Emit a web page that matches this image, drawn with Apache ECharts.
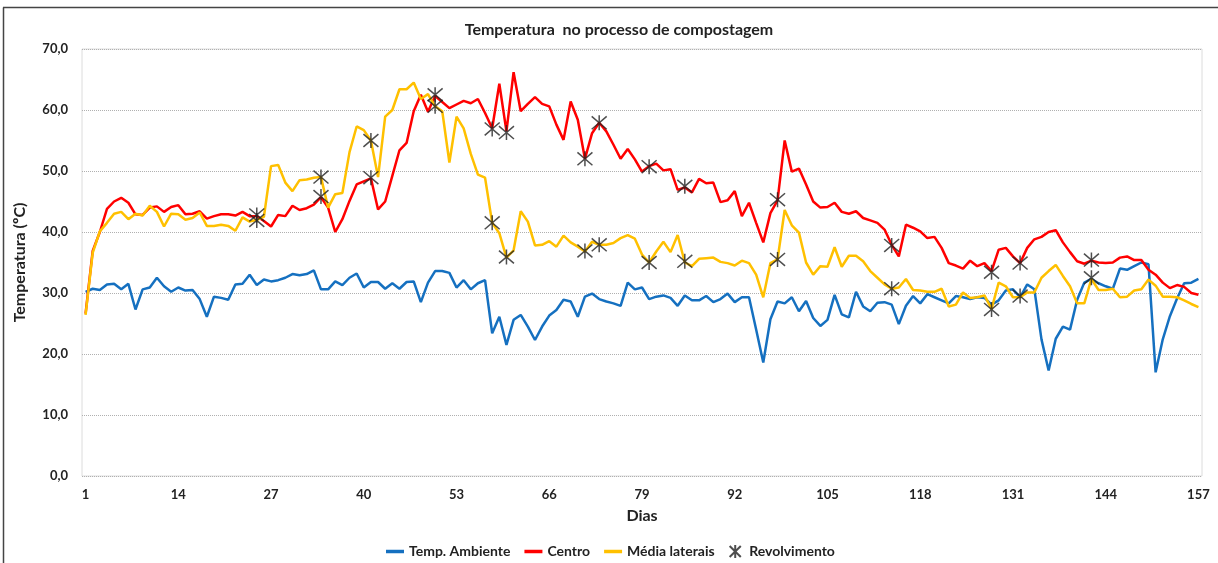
<!DOCTYPE html>
<html>
<head>
<meta charset="utf-8">
<script src="https://cdn.jsdelivr.net/npm/echarts@6/dist/echarts.min.js"></script>
<style>
  html, body { margin: 0; padding: 0; background: #fff; }
  #chart { width: 1218px; height: 563px; }
</style>
</head>
<body>
<div id="chart"></div>
<script>
// dias 1..157
const days = Array.from({ length: 157 }, (_, i) => String(i + 1))

const ambiente = [
  30.2, 30.7, 30.5, 31.4, 31.5, 30.6, 31.5, 27.3, 30.6, 30.9,
  32.5, 31.1, 30.2, 30.9, 30.4, 30.5, 29.0, 26.1, 29.4, 29.2,
  28.9, 31.4, 31.5, 33.0, 31.3, 32.2, 31.9, 32.1, 32.5, 33.1,
  32.9, 33.1, 33.7, 30.6, 30.6, 31.9, 31.3, 32.5, 33.2, 30.9,
  31.8, 31.8, 30.7, 31.6, 30.7, 31.8, 31.9, 28.5, 31.7, 33.6,
  33.6, 33.3, 30.9, 32.1, 30.6, 31.6, 32.1, 23.4, 26.1, 21.5,
  25.6, 26.4, 24.5, 22.3, 24.5, 26.3, 27.2, 28.9, 28.6, 26.1,
  29.4, 29.9, 29.0, 28.6, 28.3, 27.9, 31.7, 30.6, 30.9, 29.0,
  29.4, 29.6, 29.2, 27.9, 29.6, 28.8, 28.8, 29.5, 28.5, 29.0,
  29.9, 28.5, 29.3, 29.3, 24.0, 18.6, 25.7, 28.6, 28.3, 29.3,
  27.0, 28.7, 25.9, 24.6, 25.6, 29.7, 26.5, 26.0, 30.2, 27.8,
  27.0, 28.4, 28.5, 28.1, 24.9, 27.9, 29.5, 28.3, 29.8, 29.3,
  28.8, 28.3, 29.5, 29.3, 29.0, 29.3, 29.2, 28.1, 28.8, 30.4,
  30.6, 29.3, 31.4, 30.6, 22.4, 17.3, 22.5, 24.5, 24.0, 28.9,
  31.7, 32.3, 31.6, 31.1, 30.7, 34.0, 33.8, 34.4, 35.0, 34.7,
  17.0, 22.4, 26.2, 29.1, 31.6, 31.7, 32.3
]

const centro = [
  26.6, 36.9, 40.0, 43.8, 45.0, 45.6, 44.8, 42.9, 42.8, 44.0,
  44.2, 43.3, 44.1, 44.4, 42.9, 43.0, 43.4, 42.2, 42.6, 42.9,
  42.9, 42.7, 43.3, 42.6, 42.6, 41.8, 40.9, 42.8, 42.6, 44.3,
  43.6, 43.9, 44.5, 45.7, 44.0, 40.0, 42.1, 45.1, 47.8, 48.3,
  48.8, 43.7, 45.0, 49.2, 53.4, 54.6, 59.8, 62.5, 59.7, 62.3,
  61.3, 60.3, 60.9, 61.5, 61.1, 61.8, 59.5, 57.0, 64.3, 56.5,
  66.2, 59.8, 61.0, 62.1, 61.0, 60.6, 57.6, 55.1, 61.4, 58.4,
  52.0, 56.2, 57.9, 56.5, 54.3, 52.0, 53.6, 51.9, 49.9, 50.8,
  51.2, 50.1, 50.3, 46.9, 47.3, 46.5, 48.7, 48.0, 48.1, 44.9,
  45.2, 46.7, 42.6, 44.8, 41.5, 38.3, 43.1, 45.2, 55.0, 49.9,
  50.4, 47.8, 45.0, 44.0, 44.1, 44.8, 43.3, 43.0, 43.4, 42.3,
  41.9, 41.5, 40.4, 37.9, 36.0, 41.2, 40.7, 40.1, 39.0, 39.2,
  37.4, 34.9, 34.5, 34.0, 35.3, 34.4, 34.9, 33.6, 37.1, 37.4,
  36.0, 34.9, 37.4, 38.8, 39.2, 40.0, 40.3, 38.3, 36.7, 35.2,
  34.8, 35.3, 35.0, 34.9, 35.0, 35.8, 36.0, 35.4, 35.4, 33.8,
  33.0, 31.7, 30.8, 31.3, 31.0, 30.0, 29.7
]

const laterais = [
  26.4, 36.6, 40.1, 41.5, 43.0, 43.3, 42.1, 43.0, 42.7, 44.3,
  43.3, 40.9, 43.0, 42.9, 42.0, 42.3, 43.2, 41.0, 41.0, 41.2,
  41.0, 40.2, 42.4, 41.7, 42.0, 42.5, 50.8, 51.0, 48.1, 46.7,
  48.5, 48.6, 48.9, 49.0, 44.0, 46.2, 46.4, 53.1, 57.3, 56.7,
  55.0, 49.0, 58.9, 60.0, 63.4, 63.4, 64.5, 61.8, 62.6, 60.6,
  59.8, 51.4, 58.9, 57.0, 52.8, 49.4, 48.9, 41.5, 39.8, 35.8,
  37.0, 43.4, 41.7, 37.8, 37.9, 38.5, 37.6, 39.4, 38.3, 37.6,
  36.8, 38.4, 37.9, 37.9, 38.2, 39.0, 39.5, 38.9, 36.3, 35.0,
  36.8, 38.4, 36.7, 39.5, 35.0, 34.4, 35.6, 35.7, 35.8, 35.1,
  34.9, 34.5, 35.3, 34.9, 33.0, 29.3, 34.9, 35.5, 43.6, 41.1,
  39.9, 35.0, 33.0, 34.4, 34.3, 37.5, 34.3, 36.1, 36.1, 35.2,
  33.6, 32.5, 31.4, 30.7, 30.9, 32.3, 30.5, 30.4, 30.2, 30.2,
  30.7, 27.8, 28.1, 30.1, 29.2, 29.3, 29.6, 27.4, 31.7, 31.1,
  29.3, 29.3, 30.1, 30.1, 32.5, 33.6, 34.6, 32.8, 31.1, 28.3,
  28.3, 32.3, 30.5, 30.5, 30.7, 29.3, 29.4, 30.4, 30.6, 32.2,
  31.2, 29.4, 29.4, 29.3, 28.8, 28.2, 27.7
]

// revolvimentos (dia, temperatura)
const revDays = [25, 25, 34, 34, 41, 41, 50, 50, 58, 58, 60, 60, 71, 71, 73, 73,
  80, 80, 85, 85, 98, 98, 114, 114, 128, 128, 132, 132, 142, 142]
const revValues = [42.8, 41.9, 49.0, 45.8, 55.0, 48.9, 62.5, 60.6, 56.9, 41.5, 56.3, 35.9,
  52.0, 36.9, 57.9, 37.9, 50.7, 35.0, 47.5, 35.2, 45.3, 35.5, 37.8, 30.7,
  33.4, 27.3, 34.9, 29.5, 35.4, 32.5]

const font = 'Lato, "Open Sans", sans-serif'
const star = 'path://M0,-7L0,7M-6,-6L6,6M-6,6L6,-6'
const lineIcon = 'path://M0,0L18,0L18,3.5L0,3.5Z'

const chart = echarts.init(document.getElementById('chart'))
chart.setOption({
  animation: false,
  backgroundColor: '#fff',
  title: {
    text: 'Temperatura  no processo de compostagem',
    left: 614,
    textAlign: 'center',
    top: 17,
    textStyle: { fontFamily: font, fontSize: 16, fontWeight: 'bold', color: '#222' }
  },
  legend: {
    top: 539,
    left: 381,
    itemGap: 14,
    itemWidth: 18,
    itemHeight: 13,
    textStyle: { fontFamily: font, fontSize: 14, fontWeight: 'bold', color: '#222' },
    data: [
      { name: 'Temp. Ambiente', icon: lineIcon },
      { name: 'Centro', icon: lineIcon },
      { name: 'Média laterais', icon: lineIcon },
      { name: 'Revolvimento' }
    ]
  },
  grid: {
    left: 82, right: 16, top: 49, bottom: 87,
    show: true, borderColor: '#dcdcdc', borderWidth: 1
  },
  xAxis: {
    type: 'category',
    data: days,
    name: 'Dias',
    nameLocation: 'middle',
    nameGap: 32,
    nameTextStyle: { fontFamily: font, fontSize: 16, fontWeight: 'bold', color: '#222' },
    axisLine: { show: false },
    axisTick: { show: false },
    axisLabel: {
      interval: 12, margin: 12,
      fontFamily: font, fontSize: 13, fontWeight: 'bold', color: '#222'
    }
  },
  yAxis: {
    type: 'value',
    min: 0, max: 70, interval: 10,
    name: 'Temperatura (ºC)',
    nameLocation: 'middle',
    nameGap: 54,
    nameTextStyle: { fontFamily: font, fontSize: 16, fontWeight: 'bold', color: '#222' },
    axisLine: { show: false },
    axisTick: { show: false },
    axisLabel: {
      margin: 14,
      fontFamily: font, fontSize: 13, fontWeight: 'bold', color: '#222',
      formatter: v => v.toFixed(1).replace('.', ',')
    },
    splitLine: { lineStyle: { color: '#b0b0b0', type: 'dotted', width: 1 } }
  },
  graphic: [
    { type: 'line', shape: { x1: 3, y1: 7.5, x2: 1218, y2: 7.5 }, style: { stroke: '#444', lineWidth: 1.5 } },
    { type: 'line', shape: { x1: 3.5, y1: 7.5, x2: 3.5, y2: 563 }, style: { stroke: '#444', lineWidth: 1.5 } }
  ],
  series: [
    {
      name: 'Temp. Ambiente', type: 'line', data: ambiente,
      symbol: 'none', lineStyle: { width: 2.5, color: '#1570C0' }, itemStyle: { color: '#1570C0' }
    },
    {
      name: 'Centro', type: 'line', data: centro,
      symbol: 'none', lineStyle: { width: 2.5, color: '#FF0000' }, itemStyle: { color: '#FF0000' }
    },
    {
      name: 'Média laterais', type: 'line', data: laterais,
      symbol: 'none', lineStyle: { width: 2.5, color: '#FFC000' }, itemStyle: { color: '#FFC000' }
    },
    {
      name: 'Revolvimento', type: 'scatter',
      data: revDays.map((d, i) => [d - 1, revValues[i]]),
      symbol: star, symbolSize: 15,
      itemStyle: { color: 'rgba(0,0,0,0)', borderColor: '#222', borderWidth: 1.5 },
      z: 5
    }
  ]
})
</script>
</body>
</html>
